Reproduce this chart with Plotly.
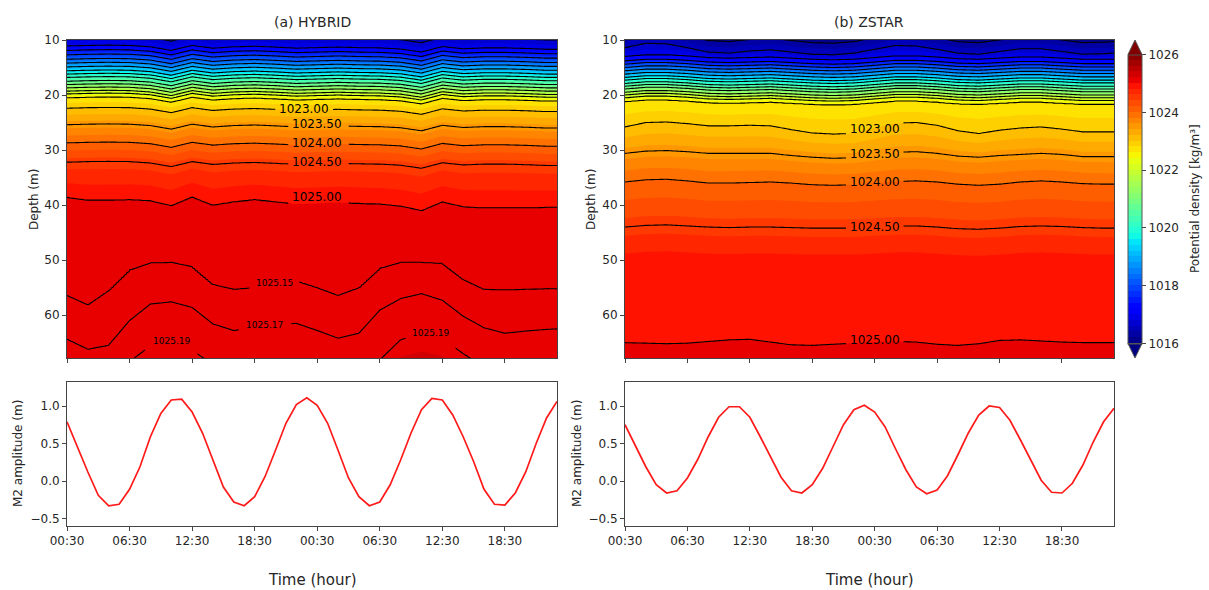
import numpy as np
import plotly.graph_objects as go

# ---------------- data ----------------
hours = list(range(48))
time_ticks = [0, 6, 12, 18, 24, 30, 36, 42]
time_labels = ["00:30", "06:30", "12:30", "18:30", "00:30", "06:30", "12:30", "18:30"]

m2_hybrid = [0.79, 0.45, 0.12, -0.19, -0.33, -0.31, -0.11, 0.19, 0.59, 0.90,
             1.08, 1.09, 0.92, 0.64, 0.28, -0.08, -0.28, -0.33, -0.21, 0.06,
             0.41, 0.77, 1.02, 1.11, 1.01, 0.77, 0.41, 0.04, -0.21, -0.33,
             -0.28, -0.05, 0.28, 0.64, 0.95, 1.10, 1.08, 0.88, 0.59, 0.26,
             -0.11, -0.31, -0.32, -0.16, 0.12, 0.50, 0.84, 1.06]
m2_zstar = [0.75, 0.47, 0.19, -0.05, -0.16, -0.13, 0.04, 0.29, 0.59, 0.85,
            0.99, 0.99, 0.85, 0.59, 0.32, 0.05, -0.13, -0.16, -0.05, 0.17,
            0.46, 0.75, 0.95, 1.01, 0.92, 0.72, 0.43, 0.15, -0.08, -0.17,
            -0.12, 0.07, 0.35, 0.64, 0.88, 1.00, 0.98, 0.81, 0.55, 0.27,
            0.01, -0.15, -0.16, -0.03, 0.21, 0.52, 0.79, 0.97]

knot_hours = [0, 2, 4, 6, 8, 10, 12, 14, 16, 18, 20, 22, 24, 26, 28, 30, 32, 34, 36, 38, 40, 42, 44, 46, 47]

# ---- HYBRID isopycnals ----
hyb_upper_levels = [1016.6, 1017.0, 1017.4, 1017.8, 1018.2, 1018.6, 1019.0, 1019.4, 1019.8,
                    1020.2, 1020.6, 1021.0, 1021.4, 1021.8, 1022.2, 1022.6,
                    1023.0, 1023.5, 1024.0, 1024.5]
hyb_upper_depths_h0 = [9.4, 11.1, 11.9, 12.7, 13.5, 14.2, 14.9, 15.6, 16.2,
                       16.8, 17.5, 18.1, 18.7, 19.3, 19.8, 20.5,
                       22.4, 25.4, 28.7, 32.2]
hyb_upper_disp = [0.0, -0.1, -0.15, -0.1, 0.15, 0.8, -0.1, 0.4, 0.15, 0.05, 0.2, 0.4, 0.3,
                  0.2, 0.3, 0.35, 0.55, 1.1, 0.1, 0.5, 0.35, 0.35, 0.45, 0.6, 0.6]
hyb_1025_00 = [38.6, 39.1, 39.1, 39.0, 39.2, 40.1, 38.5, 40.0, 39.4, 39.0, 39.4, 39.8, 39.7,
               39.5, 39.7, 39.8, 40.2, 41.0, 39.4, 40.3, 40.5, 40.5, 40.5, 40.4, 40.4]
hyb_1025_15 = [56.4, 58.1, 55.5, 51.8, 50.5, 50.4, 51.2, 54.4, 55.3, 55.0, 54.4, 53.8, 55.0,
               56.4, 55.0, 51.5, 50.4, 50.4, 50.6, 53.5, 55.3, 55.4, 55.3, 55.2, 55.2]
hyb_1025_17 = [64.4, 66.2, 65.5, 61.0, 58.0, 57.6, 58.6, 61.6, 62.8, 62.3, 61.8, 61.5, 62.8,
               64.2, 63.3, 59.1, 57.0, 56.1, 57.3, 60.2, 62.3, 63.3, 62.9, 62.6, 62.5]
hyb_1025_19 = [71.0, 72.0, 71.0, 68.5, 65.6, 65.0, 66.4, 69.0, 71.0, 71.0, 70.0, 70.0, 71.0,
               72.0, 71.0, 68.2, 64.5, 63.3, 64.3, 67.0, 69.5, 70.5, 70.0, 69.5, 69.5]
hyb_surface = (6.0, 1015.9)
hyb_bottom = (80.0, 1025.24)

# ---- ZSTAR isopycnals ----
zs_top_levels = [1016.2, 1016.6]
zs_top_depths_h0 = [9.3, 11.4]
zs_top_disp = [0.0, -0.8, -0.7, 0.0, 0.8, 1.0, 0.6, 0.4, 0.8, 1.2, 1.3, 1.0, 0.3,
               -0.4, -0.3, 0.3, 1.0, 1.2, 0.7, 0.2, 0.2, 0.7, 1.2, 1.1, 1.0]
zs_upper_levels = [1017.0, 1017.4, 1017.8, 1018.2, 1018.6, 1019.0, 1019.4, 1019.8,
                   1020.2, 1020.6, 1021.0, 1021.4, 1021.8, 1022.2, 1022.6]
zs_upper_depths_h0 = [13.0, 13.8, 14.4, 15.0, 15.6, 16.2, 16.8, 17.3,
                      17.9, 18.4, 18.9, 19.5, 20.0, 20.5, 21.2]
zs_upper_disp = [0.0, -0.3, -0.3, -0.1, 0.2, 0.3, 0.2, 0.1, 0.3, 0.5, 0.6, 0.5, 0.2,
                 -0.1, -0.1, 0.1, 0.4, 0.5, 0.3, 0.1, 0.1, 0.3, 0.5, 0.5, 0.5]
zs_1023_00 = [25.8, 25.0, 24.9, 25.2, 25.6, 25.6, 25.5, 25.6, 26.3, 26.9, 27.1, 27.0, 26.0,
              25.1, 25.0, 25.5, 26.5, 27.0, 26.4, 26.0, 25.8, 26.2, 26.7, 26.7, 26.7]
zs_1023_50 = [30.6, 30.2, 30.1, 30.3, 30.6, 30.6, 30.6, 30.6, 31.0, 31.3, 31.5, 31.4, 30.9,
              30.4, 30.3, 30.6, 31.1, 31.3, 31.0, 30.8, 30.6, 30.8, 31.2, 31.2, 31.2]
zs_1024_00 = [35.8, 35.4, 35.3, 35.6, 36.0, 36.0, 35.9, 35.8, 36.0, 36.3, 36.4, 36.3, 36.0,
              35.7, 35.6, 35.8, 36.2, 36.4, 36.2, 35.8, 35.6, 35.8, 36.1, 36.2, 36.2]
zs_1024_50 = [44.0, 43.7, 43.6, 43.8, 44.0, 44.1, 44.0, 44.0, 44.1, 44.2, 44.2, 44.2, 44.0,
              43.8, 43.8, 44.0, 44.3, 44.4, 44.2, 43.9, 43.8, 43.9, 44.1, 44.2, 44.2]
zs_1024_80 = [48.8, 48.5, 48.4, 48.6, 48.8, 48.9, 48.8, 48.8, 48.9, 49.0, 49.0, 49.0, 48.8,
              48.6, 48.6, 48.8, 49.1, 49.2, 49.0, 48.7, 48.6, 48.7, 48.9, 49.0, 49.0]
zs_1025_00 = [65.0, 65.1, 65.2, 65.1, 64.8, 64.5, 64.4, 64.9, 65.4, 65.5, 65.3, 65.1, 64.9,
              64.8, 64.9, 65.3, 65.5, 65.2, 64.6, 64.5, 64.7, 64.9, 65.0, 65.0, 65.0]
zs_surface = (6.0, 1015.7)
zs_bottom = (80.0, 1025.15)

# contour labels: (level, hour, depth) and line gaps (from_hour, to_hour)
hyb_labels = [(1023.00, 22.7, 22.5), (1023.50, 24.0, 25.3), (1024.00, 24.0, 28.7),
              (1024.50, 24.0, 32.1), (1025.00, 24.0, 38.5)]
hyb_gaps = [[(20.2, 25.4)], [(21.3, 26.8)], [(21.3, 26.8)], [(21.3, 26.8)], [(21.3, 26.8)]]
hyb_deep_labels = [(1025.15, 19.9, 54.1), (1025.17, 18.9, 61.8), (1025.19, 10.0, 64.8), (1025.19, 34.9, 63.2)]
hyb_deep_gaps = [[(17.6, 22.2)], [(16.6, 21.3)], [(7.7, 12.3), (32.6, 37.2)]]
zs_labels = [(1023.00, 24.0, 26.1), (1023.50, 24.0, 30.7), (1024.00, 24.0, 35.9),
             (1024.50, 24.0, 43.9), (1025.00, 24.0, 64.5)]
zs_gaps = [[(21.3, 26.7)]] * 5

# ---------------- density fields built from the isopycnal depths ----------------
depth_grid = np.round(np.arange(9.0, 69.05, 0.1), 2)
grid_hours = np.round(np.arange(0, 47.01, 0.25), 2)


def on_grid(series):
    return np.interp(grid_hours, knot_hours, series)


def build_field(level_vals, level_depth_series):
    series = np.array([on_grid(s) for s in level_depth_series])  # (nlev, ntime)
    vals = np.asarray(level_vals, float)
    cols = []
    for j in range(series.shape[1]):
        d = series[:, j]
        o = np.argsort(d)
        cols.append(np.interp(depth_grid, d[o], vals[o]))
    return np.array(cols).T


nk = len(knot_hours)
hyb_vals = [hyb_surface[1]] + hyb_upper_levels + [1025.0, 1025.15, 1025.17, 1025.19, hyb_bottom[1]]
hyb_series = ([[hyb_surface[0]] * nk]
              + [[d + s for s in hyb_upper_disp] for d in hyb_upper_depths_h0]
              + [hyb_1025_00, hyb_1025_15, hyb_1025_17, hyb_1025_19, [hyb_bottom[0]] * nk])
z_hyb = build_field(hyb_vals, hyb_series)

zs_vals = ([zs_surface[1]] + zs_top_levels + zs_upper_levels
           + [1023.0, 1023.5, 1024.0, 1024.5, 1024.8, 1025.0, zs_bottom[1]])
zs_series = ([[zs_surface[0]] * nk]
             + [[d + s for s in zs_top_disp] for d in zs_top_depths_h0]
             + [[d + s for s in zs_upper_disp] for d in zs_upper_depths_h0]
             + [zs_1023_00, zs_1023_50, zs_1024_00, zs_1024_50, zs_1024_80, zs_1025_00,
                [zs_bottom[0]] * nk])
z_zs = build_field(zs_vals, zs_series)

# matplotlib "jet"
_r = [(0, 0), (0.35, 0), (0.66, 1), (0.89, 1), (1, 0.5)]
_g = [(0, 0), (0.125, 0), (0.375, 1), (0.64, 1), (0.91, 0), (1, 0)]
_b = [(0, 0.5), (0.11, 1), (0.34, 1), (0.65, 0), (1, 0)]
stops = sorted(set([p for p, _ in _r + _g + _b]))


def ch(seg, x):
    return np.interp(x, [p for p, _ in seg], [v for _, v in seg])


jet = [[s, "rgb(%d,%d,%d)" % (round(255 * ch(_r, s)), round(255 * ch(_g, s)), round(255 * ch(_b, s)))]
       for s in stops]

# ---------------- layout geometry (pixels -> paper) ----------------
W, H = 1209, 590


def px(x):
    return x / W


def py(y):
    return 1 - y / H


L_X = [px(67), px(557)]
R_X = [px(625), px(1114)]
TOP_Y = [py(358), py(40)]
BOT_Y = [py(526), py(382)]

TXT = "#262626"
FONT = "DejaVu Sans"

fig = go.Figure()

common_fill = dict(x=grid_hours, y=depth_grid, colorscale=jet, zmin=1016, zmax=1026, zauto=False,
                   contours=dict(start=1016, end=1026, size=0.2, coloring="fill", showlines=False),
                   line=dict(width=0), hoverinfo="skip")

fig.add_trace(go.Contour(z=z_hyb, xaxis="x", yaxis="y", showscale=False, **common_fill))
fig.add_trace(go.Contour(
    z=z_zs, xaxis="x2", yaxis="y2", showscale=True,
    colorbar=dict(x=px(1128), xanchor="left", thickness=14, thicknessmode="pixels",
                  len=289 / H, lenmode="fraction", y=py(199), yanchor="middle",
                  xpad=0, ypad=0, outlinewidth=1, outlinecolor="#555",
                  tickvals=[1016, 1018, 1020, 1022, 1024, 1026], ticks="outside", ticklen=4,
                  tickcolor="#444", tickfont=dict(family=FONT, size=12, color=TXT)),
    **common_fill))


def lines_trace(z, xs, xa, ya, start, end, size):
    return go.Contour(z=z, x=xs, y=depth_grid, xaxis=xa, yaxis=ya, showscale=False,
                      contours=dict(start=start, end=end, size=size, coloring="none"),
                      line=dict(color="black", width=1.1), hoverinfo="skip")


def level_with_gaps(z, xa, ya, level, gaps):
    # split the time axis into pieces that skip the label gaps
    edges = [0.0]
    for a, b in gaps:
        edges += [a, b]
    edges.append(47.0)
    for k in range(0, len(edges), 2):
        lo, hi = edges[k], edges[k + 1]
        m = (grid_hours >= lo - 1e-9) & (grid_hours <= hi + 1e-9)
        fig.add_trace(lines_trace(z[:, m], grid_hours[m], xa, ya, level, level, 1.0))


fig.add_trace(lines_trace(z_hyb, grid_hours, "x", "y", 1016.6, 1022.6, 0.4))
fig.add_trace(lines_trace(z_zs, grid_hours, "x2", "y2", 1016.2, 1022.6, 0.4))
for (lev, _, _), g in zip(hyb_labels, hyb_gaps):
    level_with_gaps(z_hyb, "x", "y", lev, g)
for lev, g in zip([1025.15, 1025.17, 1025.19], hyb_deep_gaps):
    level_with_gaps(z_hyb, "x", "y", lev, g)
for (lev, _, _), g in zip(zs_labels, zs_gaps):
    level_with_gaps(z_zs, "x2", "y2", lev, g)

fig.add_trace(go.Scatter(x=hours, y=m2_hybrid, xaxis="x3", yaxis="y3", mode="lines",
                         line=dict(color="#ff1a1a", width=1.7), showlegend=False, hoverinfo="skip"))
fig.add_trace(go.Scatter(x=hours, y=m2_zstar, xaxis="x4", yaxis="y4", mode="lines",
                         line=dict(color="#ff1a1a", width=1.7), showlegend=False, hoverinfo="skip"))

ax_common = dict(showline=True, mirror=True, linecolor="#444", linewidth=1, ticks="outside",
                 ticklen=4, tickcolor="#444", showgrid=False, zeroline=False,
                 tickfont=dict(family=FONT, size=12, color=TXT))
xdep = dict(range=[0, 47], tickvals=time_ticks)
ydep = dict(range=[67.8, 10], tickvals=[10, 20, 30, 40, 50, 60])
yamp = dict(range=[-0.6, 1.32], tickvals=[-0.5, 0.0, 0.5, 1.0], tickformat=".1f")

fig.update_layout(
    width=W, height=H, margin=dict(l=0, r=0, t=0, b=0, autoexpand=False),
    paper_bgcolor="white", plot_bgcolor="white", showlegend=False,
    font=dict(family=FONT, color=TXT),
    xaxis=dict(domain=L_X, anchor="y", showticklabels=False, **xdep, **ax_common),
    yaxis=dict(domain=TOP_Y, anchor="x", **ydep, **ax_common),
    xaxis2=dict(domain=R_X, anchor="y2", showticklabels=False, **xdep, **ax_common),
    yaxis2=dict(domain=TOP_Y, anchor="x2", **ydep, **ax_common),
    xaxis3=dict(domain=L_X, anchor="y3", ticktext=time_labels, **xdep, **ax_common),
    yaxis3=dict(domain=BOT_Y, anchor="x3", **yamp, **ax_common),
    xaxis4=dict(domain=R_X, anchor="y4", ticktext=time_labels, **xdep, **ax_common),
    yaxis4=dict(domain=BOT_Y, anchor="x4", **yamp, **ax_common),
)

# contour labels
for lev, hx, dy in hyb_labels:
    fig.add_annotation(text="%.2f" % lev, x=hx, y=dy, xref="x", yref="y", showarrow=False,
                       font=dict(family=FONT, size=12, color="black"))
for lev, hx, dy in hyb_deep_labels:
    fig.add_annotation(text="%.2f" % lev, x=hx, y=dy, xref="x", yref="y", showarrow=False,
                       font=dict(family=FONT, size=9, color="black"))
for lev, hx, dy in zs_labels:
    fig.add_annotation(text="%.2f" % lev, x=hx, y=dy, xref="x2", yref="y2", showarrow=False,
                       font=dict(family=FONT, size=12, color="black"))


def ann(text, x, y, size, angle=0):
    fig.add_annotation(text=text, x=px(x), y=py(y), xref="paper", yref="paper", showarrow=False,
                       textangle=angle, xanchor="center", yanchor="middle",
                       font=dict(family=FONT, size=size, color=TXT))


ann("(a) HYBRID", 312, 22, 14)
ann("(b) ZSTAR", 869, 22, 14)
ann("Depth (m)", 34, 200, 12, -90)
ann("Depth (m)", 591, 200, 12, -90)
ann("M2 amplitude (m)", 18, 454, 12, -90)
ann("M2 amplitude (m)", 577, 454, 12, -90)
ann("Time (hour)", 312, 580, 15)
ann("Time (hour)", 869, 580, 15)
ann("Potential density [kg/m³]", 1195, 199, 12, -90)

# colorbar extension triangles
fig.add_shape(type="path", xref="paper", yref="paper",
              path="M %f %f L %f %f L %f %f Z" % (px(1128), py(54.5), px(1142), py(54.5), px(1135), py(40)),
              fillcolor=jet[-1][1], line=dict(color="#555", width=1))
fig.add_shape(type="path", xref="paper", yref="paper",
              path="M %f %f L %f %f L %f %f Z" % (px(1128), py(343.5), px(1142), py(343.5), px(1135), py(358)),
              fillcolor=jet[0][1], line=dict(color="#555", width=1))

fig.write_html("out.html", config={"displayModeBar": False},
               post_script="document.body.style.margin='0';document.body.style.overflow='hidden';")
